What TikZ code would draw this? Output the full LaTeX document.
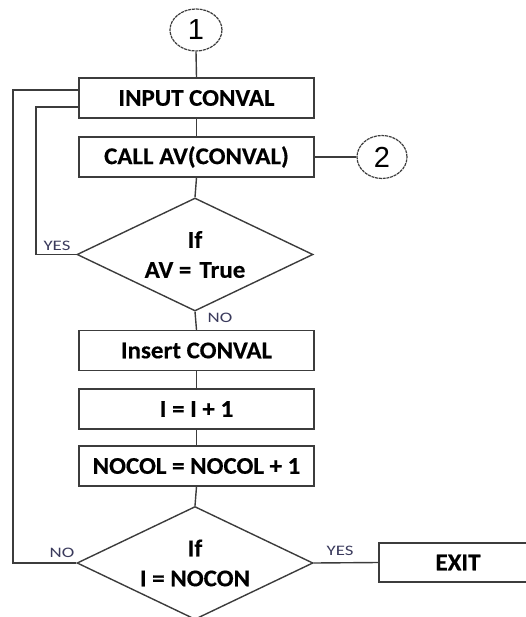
\documentclass[tikz,border=0pt]{standalone}
\usepackage{fontspec}
\setmainfont{Carlito}
\newfontfamily\arialfont{Liberation Sans}
\newfontfamily\boxfont[FakeStretch=1.04,FakeBold=0.4]{Carlito Bold}
\newfontfamily\labelfont[FakeStretch=1.3]{Carlito}
\usetikzlibrary{shapes.geometric}
\definecolor{linegray}{HTML}{3C3C3C}
\definecolor{labelcol}{HTML}{3A3A5C}
\tikzset{
  procbox/.style={draw=linegray, line width=1.4pt, rectangle, minimum width=235pt, minimum height=40pt, inner sep=0pt, font=\fontsize{24}{30}\selectfont\boxfont},
  decbox/.style={draw=linegray, line width=1.4pt, diamond, aspect=2.09, minimum width=236pt, minimum height=113pt, inner sep=0pt, align=center, font=\fontsize{24}{30}\selectfont\boxfont},
  connector/.style={draw=linegray, line width=1.2pt, ellipse, dash pattern=on 3pt off 0.8pt, inner sep=0pt, font=\fontsize{29}{30}\selectfont\arialfont},
  flow/.style={draw=linegray, line width=1.4pt},
  branchlabel/.style={text=labelcol, font=\fontsize{14.5}{15}\selectfont\labelfont, inner sep=0pt}
}
\begin{document}
\begin{tikzpicture}[x=1pt,y=-1pt]
\useasboundingbox (0,0) rectangle (525,617);
\node[connector, minimum width=52pt, minimum height=42pt] (c1) at (196,30) {1};
\node[procbox] (in) at (196.5,98) {INPUT CONVAL};
\node[procbox] (call) at (196.5,157) {CALL AV(CONVAL)};
\node[connector, minimum width=50pt, minimum height=43pt] (c2) at (382,157) {2};
\node[decbox] (d1) at (195,254.5) {If\\AV =\,\,True};
\node[procbox] (ins) at (196.5,350.5) {Insert CONVAL};
\node[procbox] (inc) at (196.5,409) {I = I + 1};
\node[procbox] (noc) at (196.5,466) {NOCOL = NOCOL + 1};
\node[decbox] (d2) at (195,563) {If\\I = NOCON};
\node[procbox, minimum width=158pt, minimum height=39pt] (exit) at (458,562.5) {EXIT};
\coordinate (outerx) at (13,0);
\coordinate (innerx) at (36,0);
\draw[flow] (c1.south) -- (in.north);
\draw[flow] (in.south) -- (call.north);
\draw[flow] (call.east) -- (c2.west);
\draw[flow] (call.south) -- (d1.north);
\draw[flow] (d1.south) -- (ins.north);
\draw[flow] (ins.south) -- (inc.north);
\draw[flow] (inc.south) -- (noc.north);
\draw[flow] (noc.south) -- (d2.north);
\draw[flow] (d2.east) -- (exit.west);
\draw[flow] (d2.west) -- (d2.west -| outerx) |- ([yshift=8pt]in.west);
\draw[flow] (d1.west) -- (d1.west -| innerx) |- ([yshift=-9pt]in.west);
\node[branchlabel] (yes1) at (57,246) {YES};
\node[branchlabel] (no1) at (220,318) {NO};
\node[branchlabel] (no2) at (62,553) {NO};
\node[branchlabel] (yes2) at (340,551) {YES};
\end{tikzpicture}
\end{document}
